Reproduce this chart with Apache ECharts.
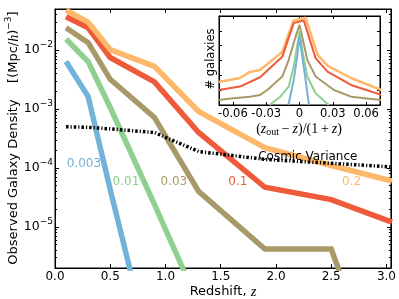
<!DOCTYPE html>
<html><head><meta charset="utf-8">
<script src="https://cdn.jsdelivr.net/npm/echarts@6/dist/echarts.min.js"></script>
<style>html,body{margin:0;padding:0;background:#fff}#c{width:399px;height:299px}</style>
</head><body><div id="c"></div>
<script>
// ---- data ----
const redshift   = [0.1, 0.3, 0.5, 0.9, 1.3, 1.9, 2.5, 3.05];
const dens003    = [6.4e-3, 1.63e-3, 4.3e-5, 4e-8, null, null, null, null];
const dens01     = [1.55e-2, 6.4e-3, 1.06e-3, 2.4e-5, 4.9e-7, null, null, null];
const dens03     = [2.4e-2, 1.34e-2, 3.2e-3, 7.2e-4, 4.0e-5, 4.2e-6, 4.2e-6, 6e-9];
const dens1      = [3.7e-2, 2.4e-2, 7.5e-3, 2.9e-3, 4.0e-4, 4.7e-5, 2.9e-5, 1.2e-5];
const dens2      = [4.8e-2, 3.0e-2, 1.02e-2, 5.3e-3, 9.1e-4, 2.2e-4, 1.1e-4, 6.0e-5];
const cosmicVar  = [5.0e-4, 4.9e-4, 4.6e-4, 4.0e-4, 1.9e-4, 1.4e-4, 1.2e-4, 1.04e-4];
const xTicks     = [0, 0.5, 1.0, 1.5, 2.0, 2.5, 3.0];
const yMajor     = [1e-5, 1e-4, 1e-3, 1e-2];
const insetTicks = [-0.06, -0.03, 0, 0.03, 0.06];
// inset histograms: [(z_out-z)/(1+z), # galaxies (arbitrary units)]
const inset2   = [[-0.0727,1.55],[-0.0536,1.82],[-0.0445,2.23],[-0.0355,2.36],[-0.0155,3.58],[-0.0055,5.68],[0.0055,5.88],[0.0164,3.38],[0.0255,2.64],[0.0464,1.82],[0.0736,1.01]];
const inset1   = [[-0.0727,1.01],[-0.0536,1.24],[-0.0355,1.87],[-0.0155,3.26],[-0.0052,5.52],[0.0039,5.7],[0.0145,3.16],[0.0252,2.25],[0.0464,1.35],[0.0736,0.68]];
const inset03  = [[-0.0727,0.34],[-0.06,0.45],[-0.0445,0.56],[-0.0355,0.68],[-0.029,1.01],[-0.0155,1.92],[-0.0097,3.04],[-0.0036,4.58],[0,5.4],[0.0025,4.58],[0.007,3.04],[0.0145,1.92],[0.031,1.01],[0.0464,0.56],[0.0736,0.34]];
const inset01  = [[-0.027,0],[-0.0173,0.56],[-0.0097,1.24],[-0.0052,2.59],[-0.0012,4.39],[0,5.0],[0.0025,3.71],[0.007,1.92],[0.0145,0.79],[0.0264,0]];
const inset003 = [[-0.01,0],[-0.0052,1.69],[-0.0021,3.26],[0,4.61],[0.0009,4.5],[0.0025,3.26],[0.0055,1.69],[0.0085,0]];
const lineLabels = ['0.003', '0.01', '0.03', '0.1', '0.2', 'Cosmic Variance'];

// ---- styles ----
const C = {b:'#74b3d9', g:'#8fcf8f', o:'#a89a68', r:'#ee5a3a', y:'#fdb86a', k:'#000'};
const FONT = 'DejaVu Sans';
const labelAnchors = [[0.262,1.19e-4],[0.642,5.9e-5],[1.076,5.9e-5],[1.655,5.9e-5],[2.685,5.9e-5],[2.288,1.57e-4]];
const labelColors = [C.b, C.g, C.o, C.r, C.y, C.k];

const yMinor = [];
for (let e = -6; e <= -2; e++) for (let k = 2; k <= 9; k++) { const v = k * Math.pow(10, e); if (v >= 2e-6 && v <= 0.05) yMinor.push(v); }

const pairs = arr => redshift.map((z, i) => [z, arr[i] == null ? '-' : arr[i]]);
const blk = {color: '#000', width: 1};
const supFmt = v => { const e = Math.round(Math.log10(v)); return '10{s|−' + (-e) + '}'; };

function mainX(pos, labels) {
  return {gridIndex: 0, type: 'value', min: 0, max: 3.04, position: pos,
    axisLine: {show: true, onZero: false, lineStyle: blk}, splitLine: {show: false},
    axisTick: {show: true, inside: true, length: 4, customValues: xTicks, lineStyle: blk},
    axisLabel: {show: labels, customValues: xTicks, formatter: v => v.toFixed(1), fontSize: 12, color: '#000', margin: 3, fontFamily: FONT}};
}
function mainY(pos, major, labels) {
  return {gridIndex: 0, type: 'log', logBase: 10, min: 2e-6, max: 0.05, position: pos,
    axisLine: {show: major, onZero: false, lineStyle: blk}, splitLine: {show: false}, minorTick: {show: false},
    axisTick: {show: true, inside: true, length: major ? 4 : 2, customValues: major ? yMajor : yMinor, lineStyle: blk},
    axisLabel: {show: labels, customValues: yMajor, formatter: supFmt, fontSize: 12.5, lineHeight: 20, color: '#000', margin: 2, fontFamily: FONT,
      rich: {s: {fontSize: 9, lineHeight: 11, verticalAlign: 'top', color: '#000', fontFamily: FONT}}}};
}
function insetX(pos, labels) {
  return {gridIndex: 1, type: 'value', min: -0.0725, max: 0.0725, position: pos, z: 11,
    axisLine: {show: true, onZero: false, lineStyle: blk}, splitLine: {show: false},
    axisTick: {show: true, inside: true, length: 3, customValues: insetTicks, lineStyle: blk},
    axisLabel: {show: labels, customValues: insetTicks, formatter: v => v === 0 ? '0' : v.toFixed(2), fontSize: 11.5, color: '#000', margin: 3, fontFamily: FONT}};
}
function insetY(pos) {
  return {gridIndex: 1, type: 'value', min: 0, max: 6, interval: 1, position: pos, z: 11,
    axisLine: {show: true, onZero: false, lineStyle: blk}, splitLine: {show: false},
    axisTick: {show: true, inside: true, length: 3, lineStyle: blk}, axisLabel: {show: false}};
}

function mainLine(name, arr, color) {
  return {name, type: 'line', xAxisIndex: 0, yAxisIndex: 0, data: pairs(arr), showSymbol: false, symbol: 'none',
    clip: true, z: 2, lineStyle: {color, width: 5.5, cap: 'butt', join: 'miter'}, animation: false};
}
function insetLine(name, arr, color, w) {
  return {name, type: 'line', xAxisIndex: 2, yAxisIndex: 4, data: arr, symbol: 'none', clip: true, z: 12,
    lineStyle: {color, width: w}, animation: false};
}

const chart = echarts.init(document.getElementById('c'), null, {renderer: 'canvas'});
chart.setOption({
  animation: false,
  backgroundColor: '#fff',
  textStyle: {fontFamily: FONT},
  grid: [
    {left: 55, right: 8, top: 9, bottom: 31, show: true, borderColor: '#000', borderWidth: 1, backgroundColor: 'transparent'},
    {left: 219, top: 16, width: 161, height: 89, show: true, borderColor: '#000', borderWidth: 1, backgroundColor: '#fff', z: 10}
  ],
  xAxis: [mainX('bottom', true), mainX('top', false), insetX('bottom', true), insetX('top', false)],
  yAxis: [mainY('left', true, true), mainY('left', false, false), mainY('right', true, false), mainY('right', false, false), insetY('left'), insetY('right')],
  series: [
    mainLine('0.003', dens003, C.b),
    mainLine('0.01', dens01, C.g),
    mainLine('0.03', dens03, C.o),
    mainLine('0.1', dens1, C.r),
    mainLine('0.2', dens2, C.y),
    {name: 'Cosmic Variance', type: 'line', xAxisIndex: 0, yAxisIndex: 0, data: pairs(cosmicVar), symbol: 'none', z: 3,
      lineStyle: {color: '#000', width: 3.5, type: [2.5, 2, 1.2, 2], cap: 'butt'}, animation: false},
    insetLine('0.2', inset2, C.y, 2.5),
    insetLine('0.1', inset1, C.r, 2),
    insetLine('0.03', inset03, C.o, 2),
    insetLine('0.01', inset01, C.g, 2),
    insetLine('0.003', inset003, C.b, 2)
  ]
});

const graphics = lineLabels.map((t, i) => {
  const p = chart.convertToPixel({xAxisIndex: 0, yAxisIndex: 0}, labelAnchors[i]);
  return {type: 'text', x: p[0], y: p[1], z: 5,
    style: {text: t, fill: labelColors[i], font: '12px "DejaVu Sans"', align: 'center', verticalAlign: 'middle'}};
});
graphics.push({type: 'text', x: 14, y: 138, rotation: Math.PI / 2, z: 5,
  style: {text: 'Observed Galaxy Density    [(Mpc/{i|h}){s|−3}]', fill: '#000', font: '13px "DejaVu Sans"', align: 'center', verticalAlign: 'middle', lineHeight: 20,
    rich: {i: {fontFamily: 'Liberation Serif', fontStyle: 'italic', fontSize: 14, lineHeight: 20}, s: {fontSize: 9, lineHeight: 11, verticalAlign: 'top', fontFamily: FONT}}}});
graphics.push({type: 'text', x: 223, y: 292, z: 5,
  style: {text: 'Redshift, {i|z}', fill: '#000', font: '13px "DejaVu Sans"', align: 'center', verticalAlign: 'middle',
    rich: {i: {fontFamily: 'Liberation Serif', fontStyle: 'italic', fontSize: 14.5}}}});
graphics.push({type: 'text', x: 211, y: 59, rotation: Math.PI / 2, z: 20,
  style: {text: '# galaxies', fill: '#000', font: '11.5px "DejaVu Sans"', align: 'center', verticalAlign: 'middle'}});
graphics.push({type: 'text', x: 299, y: 129, z: 20,
  style: {text: '({i|z}{sub|out}\u2009−\u2009{i|z})/(1\u2009+\u2009{i|z})', fill: '#000', font: '14px "Liberation Serif"', align: 'center', verticalAlign: 'middle', lineHeight: 16,
    rich: {i: {fontFamily: 'Liberation Serif', fontStyle: 'italic', fontSize: 14, lineHeight: 16}, sub: {fontFamily: 'Liberation Serif', fontSize: 10, lineHeight: 10, verticalAlign: 'bottom'}}}});
chart.setOption({graphic: graphics});
</script></body></html>
